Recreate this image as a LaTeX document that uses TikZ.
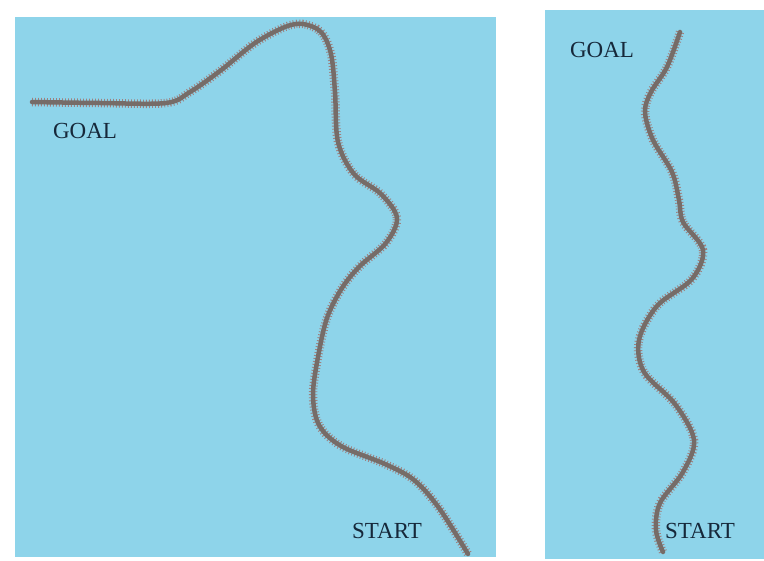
\documentclass[tikz,border=0pt]{standalone}
\usepackage{fontspec}
\setmainfont{Liberation Serif}
\usepackage{tikz}
\usetikzlibrary{positioning}
\definecolor{PanelBlue}{RGB}{142,212,234}
\definecolor{TrackCore}{RGB}{118,108,104}
\definecolor{TrackTie}{RGB}{158,128,126}
\definecolor{LabelInk}{RGB}{22,40,58}

\begin{document}
\begin{tikzpicture}[
  x=1pt, y=-1pt,
  panel/.style={fill=PanelBlue, draw=none},
  tie/.style={draw=TrackTie, line width=8.5pt, dash pattern=on 0.9pt off 2.1pt},
  track/.style={draw=TrackCore, line width=4.5pt, line cap=round, line join=round},
  tag/.style={text=LabelInk, inner sep=0pt, font=\fontsize{23}{27}\selectfont}
]
\useasboundingbox (0,0) rectangle (764,561);
\path[panel] (15,17) rectangle (496,557);
\path[panel] (545,10) rectangle (764,559);

\def\LeftRoute{(32,102) (100,103) (166,103) (190,92) (220,71) (255,43) (285,27)
  (303,24) (321,32) (331,54) (335,92) (338,142) (354,174) (381,194)
  (397,218) (386,243) (360,266) (342,288) (327,318) (318,357) (313,395)
  (319,425) (341,446) (385,464) (414,480) (439,508) (468,554)}
\def\RightRoute{(680,32) (667,67) (651,92) (645,112) (653,140) (672,172)
  (679,200) (683,222) (703,250) (692,279) (657,306) (639,340) (644,372)
  (675,404) (694,440) (683,472) (660,503) (656,530) (663,552)}

\draw[tie] plot[smooth, tension=0.55] coordinates {\LeftRoute};
\draw[track] plot[smooth, tension=0.55] coordinates {\LeftRoute};
\draw[tie] plot[smooth, tension=0.55] coordinates {\RightRoute};
\draw[track] plot[smooth, tension=0.55] coordinates {\RightRoute};

\node[tag] (goalL) at (85,131) {GOAL};
\node[tag] (startL) at (387,531) {START};
\node[tag] (goalR) at (602,50) {GOAL};
\node[tag] (startR) at (700,531) {START};
\end{tikzpicture}
\end{document}
